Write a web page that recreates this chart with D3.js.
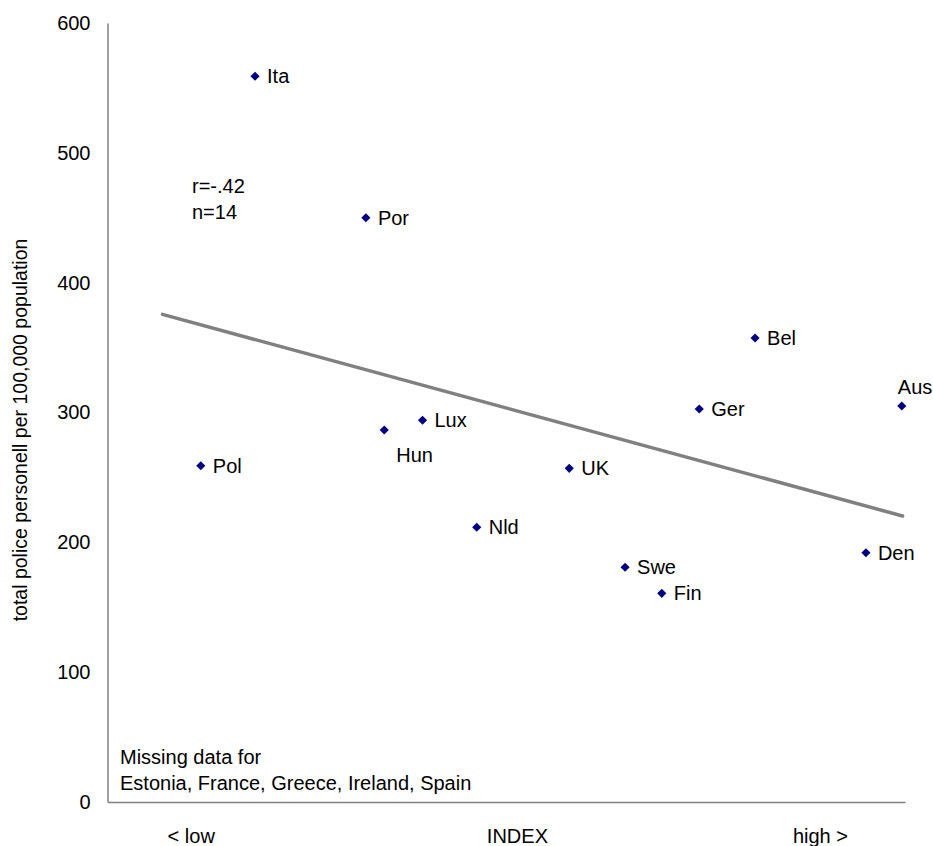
<!DOCTYPE html>
<html><head><meta charset="utf-8">
<script src="https://cdn.jsdelivr.net/npm/d3@7"></script>
<style>
body{margin:0;background:#fff;}
text{font-family:Arial,"Liberation Sans",sans-serif;fill:#000;}
</style></head>
<body>
<svg id="c" width="933" height="846"></svg>
<script>
const countries = ["Ita","Por","Pol","Hun","Lux","Nld","UK","Swe","Fin","Ger","Bel","Den","Aus"];
const indexValues = [1.85,3.24,1.17,3.47,3.95,4.63,5.79,6.49,6.95,7.42,8.12,9.51,9.96];
const policeValues = [559,450,259,286.5,294,211.6,257,180.8,160.7,302.7,357.4,192,305];
const labelPos = ["right","right","right","below","right","right","right","right","right","right","right","right","above"];
const yTicks = [0,100,200,300,400,500,600];
const trendX = [0.69,9.97];
const trendY = [375.6,220.3];
const xCategoryLabels = ["< low","INDEX","high >"];
const xCategoryPos = [1.05,5.14,8.94];
const statsText = ["r=-.42","n=14"];
const noteText = ["Missing data for","Estonia, France, Greece, Ireland, Spain"];

const svg = d3.select("#c");
const x = d3.scaleLinear().domain([0,10]).range([107.5,905]);
const y = d3.scaleLinear().domain([0,600]).range([802,23]);
const FS = 20;

// axes
const yAxis = d3.axisLeft(y).tickValues(yTicks).tickSize(0).tickPadding(17);
const gy = svg.append("g").attr("transform","translate(107.5,0)").call(yAxis);
gy.select(".domain").attr("stroke","#808080").attr("stroke-width",1.5);
gy.selectAll("text").attr("font-size",FS).attr("font-family","Arial,'Liberation Sans',sans-serif").attr("fill","#000");

const xAxis = d3.axisBottom(x).tickValues([]).tickSize(0);
const gx = svg.append("g").attr("transform","translate(0,802)").call(xAxis);
gx.select(".domain").attr("stroke","#808080").attr("stroke-width",1.5);

// y title
svg.append("text").attr("transform","translate(27,430) rotate(-90)")
  .attr("text-anchor","middle").attr("font-size",19.5)
  .text("total police personell per 100,000 population");

// trend line
svg.append("line")
  .attr("x1",x(trendX[0])).attr("y1",y(trendY[0]))
  .attr("x2",x(trendX[1])).attr("y2",y(trendY[1]))
  .attr("stroke","#808080").attr("stroke-width",3.5).attr("stroke-linecap","round");

// points
const data = countries.map((c,i)=>({c, xv:indexValues[i], yv:policeValues[i], pos:labelPos[i]}));
svg.append("g").selectAll("path").data(data).join("path")
  .attr("d",d3.symbol().type(d3.symbolSquare).size(42))
  .attr("transform",d=>`translate(${x(d.xv)},${y(d.yv)}) rotate(45)`)
  .attr("fill","#000080");

svg.append("g").selectAll("text").data(data).join("text")
  .attr("x",d=> d.pos==="above" ? x(d.xv)-4 : x(d.xv)+12)
  .attr("y",d=> d.pos==="right" ? y(d.yv)+7 : d.pos==="below" ? y(d.yv)+32 : y(d.yv)-12)
  .attr("font-size",FS)
  .text(d=>d.c);

// stats
svg.append("g").selectAll("text").data(statsText).join("text")
  .attr("x",192).attr("y",(d,i)=>193+i*26).attr("font-size",FS).text(d=>d);

// note
svg.append("g").selectAll("text").data(noteText).join("text")
  .attr("x",120).attr("y",(d,i)=>764+i*26).attr("font-size",FS).text(d=>d);

// category labels
svg.append("g").selectAll("text").data(xCategoryLabels).join("text")
  .attr("x",(d,i)=>x(xCategoryPos[i])).attr("y",843)
  .attr("text-anchor","middle").attr("font-size",FS)
  .text(d=>d);
</script>
</body></html>
